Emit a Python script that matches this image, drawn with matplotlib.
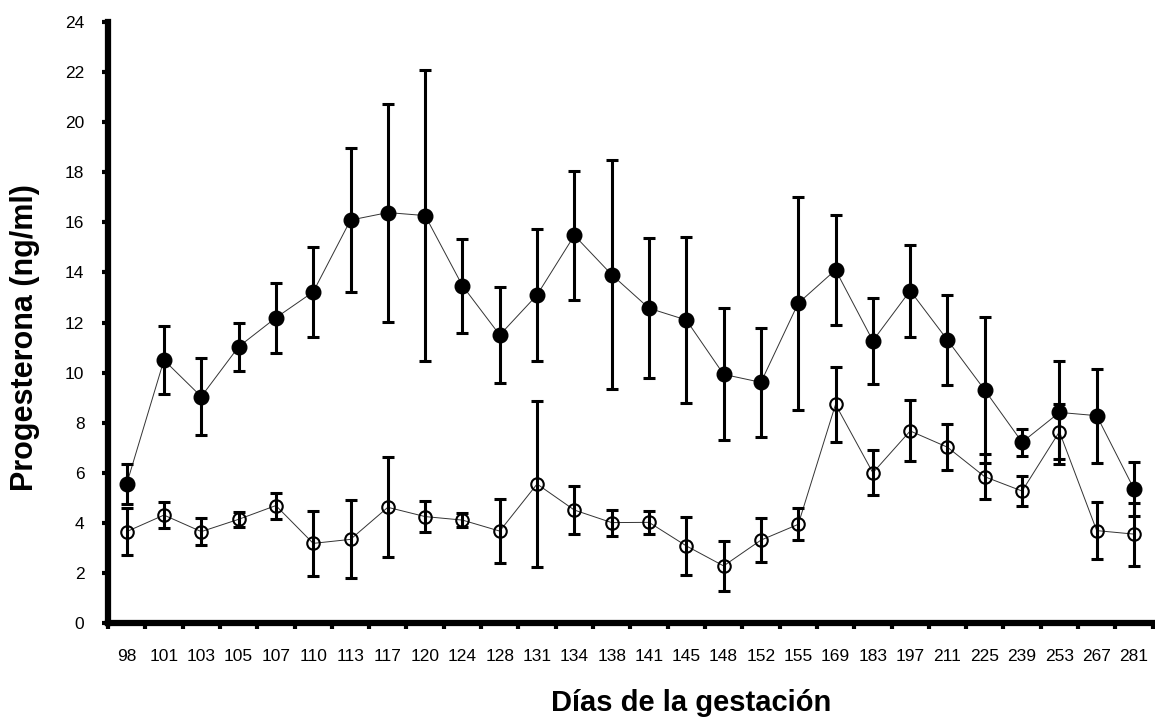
import numpy as np
import matplotlib.pyplot as plt

plt.rcParams['font.family'] = ['Liberation Sans', 'DejaVu Sans']

# Days of gestation (categorical x axis)
dias = ['98', '101', '103', '105', '107', '110', '113', '117', '120', '124',
        '128', '131', '134', '138', '141', '145', '148', '152', '155', '169',
        '183', '197', '211', '225', '239', '253', '267', '281']

# filled circles - mean and error
prog_llenos = [5.55, 10.5, 9.04, 11.03, 12.19, 13.22, 16.09, 16.39, 16.27, 13.47,
               11.5, 13.1, 15.48, 13.91, 12.57, 12.1, 9.93, 9.61, 12.77, 14.1,
               11.27, 13.27, 11.3, 9.3, 7.22, 8.41, 8.28, 5.35]
err_llenos = [0.8, 1.35, 1.55, 0.97, 1.4, 1.78, 2.86, 4.35, 5.8, 1.88,
              1.9, 2.62, 2.58, 4.57, 2.8, 3.3, 2.63, 2.18, 4.25, 2.2,
              1.72, 1.84, 1.78, 2.9, 0.54, 2.05, 1.88, 1.09]

# open circles - mean and error
prog_vacios = [3.65, 4.31, 3.65, 4.14, 4.69, 3.18, 3.34, 4.62, 4.25, 4.11,
               3.67, 5.55, 4.51, 4.01, 4.02, 3.08, 2.28, 3.31, 3.94, 8.73,
               6.0, 7.67, 7.02, 5.84, 5.27, 7.64, 3.69, 3.55]
err_vacios = [0.95, 0.53, 0.53, 0.3, 0.52, 1.29, 1.56, 2.0, 0.61, 0.29,
              1.29, 3.3, 0.97, 0.52, 0.45, 1.16, 1.0, 0.87, 0.64, 1.51,
              0.9, 1.22, 0.92, 0.89, 0.61, 1.1, 1.14, 1.26]

x = np.arange(len(dias))

fig = plt.figure(figsize=(11.55, 7.19), dpi=100)
ax = fig.add_axes([0.0935, 0.1335, 0.9045, 0.8359])

# connecting lines
ax.plot(x, prog_llenos, color='#333333', linewidth=0.7, zorder=2)
ax.plot(x, prog_vacios, color='#333333', linewidth=0.7, zorder=2)

# error bars
ax.errorbar(x, prog_llenos, yerr=err_llenos, fmt='none', ecolor='black',
            elinewidth=2.2, capsize=4.3, capthick=2.2, zorder=3)
ax.errorbar(x, prog_vacios, yerr=err_vacios, fmt='none', ecolor='black',
            elinewidth=2.2, capsize=4.3, capthick=2.2, zorder=3)

# markers
ax.plot(x, prog_llenos, 'o', color='black', markersize=10.5, linestyle='none', zorder=4)
ax.plot(x, prog_vacios, 'o', markerfacecolor='none', markeredgecolor='black',
        markeredgewidth=1.5, markersize=9, linestyle='none', zorder=5)

ax.set_xlim(-0.5, len(dias) - 0.5)
ax.set_ylim(0, 24)
ax.set_yticks(np.arange(0, 25, 2))

ax.set_xticks(x)
ax.set_xticklabels(dias, fontsize=12.5)
ax.set_xticks(np.arange(-0.5, len(dias), 1), minor=True)
ax.tick_params(axis='x', which='major', length=0, pad=19)
ax.tick_params(axis='x', which='minor', length=4, width=3, direction='out')
ax.tick_params(axis='y', length=4, width=3, direction='out', labelsize=12.5, pad=13)

for side in ['top', 'right']:
    ax.spines[side].set_visible(False)
for side in ['left', 'bottom']:
    ax.spines[side].set_linewidth(4.5)

fig.text(0.0216, 0.531, 'Progesterona (ng/ml)', rotation=90, ha='center', va='center',
         fontsize=22, fontweight='bold')
fig.text(0.598, 0.022, 'Días de la gestación', ha='center', va='center',
         fontsize=21, fontweight='bold')

fig.savefig('out.png', dpi=100)
